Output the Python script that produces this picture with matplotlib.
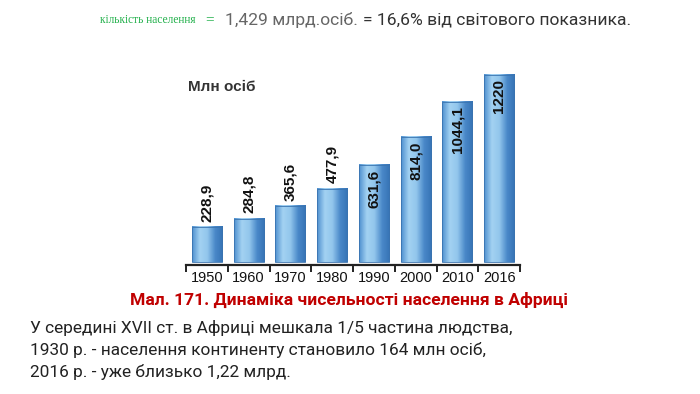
import matplotlib
matplotlib.use('Agg')
import matplotlib.pyplot as plt
from matplotlib.colors import LinearSegmentedColormap
import numpy as np

years = ['1950', '1960', '1970', '1980', '1990', '2000', '2010', '2016']
population = [228.9, 284.8, 365.6, 477.9, 631.6, 814.0, 1044.1, 1220]
value_labels = ['228,9', '284,8', '365,6', '477,9', '631,6', '814,0', '1044,1', '1220']
inside_from = 4  # labels from 1990 on sit inside the bar

BAR_W = 0.72
bar_cmap = LinearSegmentedColormap.from_list(
    'bar', ['#4f90cf', '#a3d2f2', '#92c6ec', '#4a89c9', '#3673b5'])

fig = plt.figure(figsize=(7, 3.94), dpi=100)
W, H = 700, 394

# axes placed in pixel terms: left 186, right 520, bottom line 265, top 60
ax = fig.add_axes([186 / W, (H - 265) / H, (520 - 186) / W, (265 - 60) / H])
ax.set_xlim(-0.5, 7.5)
ax.set_ylim(-17, 1317)

bars = ax.bar(range(len(years)), population, width=BAR_W, color='none',
              edgecolor='#3a74b0', linewidth=0.6, zorder=3)
grad = np.linspace(0, 1, 64).reshape(1, -1)
for i, (b, v) in enumerate(zip(bars, population)):
    x0 = b.get_x()
    ax.imshow(grad, cmap=bar_cmap, aspect='auto', extent=[x0, x0 + BAR_W, 0, v],
              zorder=2, interpolation='bilinear')
    if i < inside_from:
        ax.annotate(value_labels[i], (i, v), xytext=(0, 4), textcoords='offset points',
                    rotation=90, ha='center', va='bottom', fontsize=11,
                    fontweight='bold', family='Liberation Sans', color='#111111')
    else:
        ax.annotate(value_labels[i], (i, v), xytext=(0, -3), textcoords='offset points',
                    rotation=90, ha='center', va='top', fontsize=11,
                    fontweight='bold', family='Liberation Sans', color='#111111', zorder=4)

ax.set_xlim(-0.5, 7.5)
ax.set_ylim(-17, 1317)

for s in ['top', 'right', 'left']:
    ax.spines[s].set_visible(False)
ax.spines['bottom'].set_linewidth(1.6)
ax.spines['bottom'].set_color('#222222')
ax.set_yticks([])
ax.set_xticks(np.arange(-0.5, 8, 1))
ax.set_xticklabels([])
ax.set_xticks(range(len(years)), minor=True)
ax.set_xticklabels(years, minor=True, fontsize=10.5, family='Liberation Sans', color='#111111')
ax.tick_params(axis='x', which='major', length=5, width=1.4, color='#222222', direction='out')
ax.tick_params(axis='x', which='minor', length=0, pad=4)

ax.text(0.005, 0.87, 'Млн осіб', transform=ax.transAxes, fontsize=11, fontweight='bold',
        family='Liberation Sans', color='#333333', va='center')

# header line
fig.text(100 / W, 1 - 20 / H, 'кількість населення', fontsize=8.3,
         family='Liberation Serif', color='#22b04b', va='center')
fig.text(205 / W, 1 - 20 / H, '=', fontsize=11,
         family='Liberation Serif', color='#22b04b', va='center')
t2 = fig.text(225 / W, 1 - 20 / H, '1,429 млрд.осіб.', fontsize=12.6,
              family='Roboto', color='#666666', va='center')
fig.canvas.draw()
bb = t2.get_window_extent()
fig.text((bb.x1 + 5) / W, 1 - 20 / H, '= 16,6% від світового показника.', fontsize=12.6,
         family='Roboto', color='#333333', va='center')

fig.text(349 / W, 1 - 300 / H, 'Мал. 171. Динаміка чисельності населення в Африці',
         fontsize=12.6, fontweight='bold', family='Roboto', color='#c00000',
         ha='center', va='center')

body = ['У середині XVII ст. в Африці мешкала 1/5 частина людства,',
        '1930 р. - населення континенту становило 164 млн осіб,',
        '2016 р. - уже близько 1,22 млрд.']
for k, line in enumerate(body):
    fig.text(30 / W, 1 - (328 + 22 * k) / H, line, fontsize=12.4, family='Roboto',
             color='#222222', va='center')

fig.savefig('out.png', dpi=100)
